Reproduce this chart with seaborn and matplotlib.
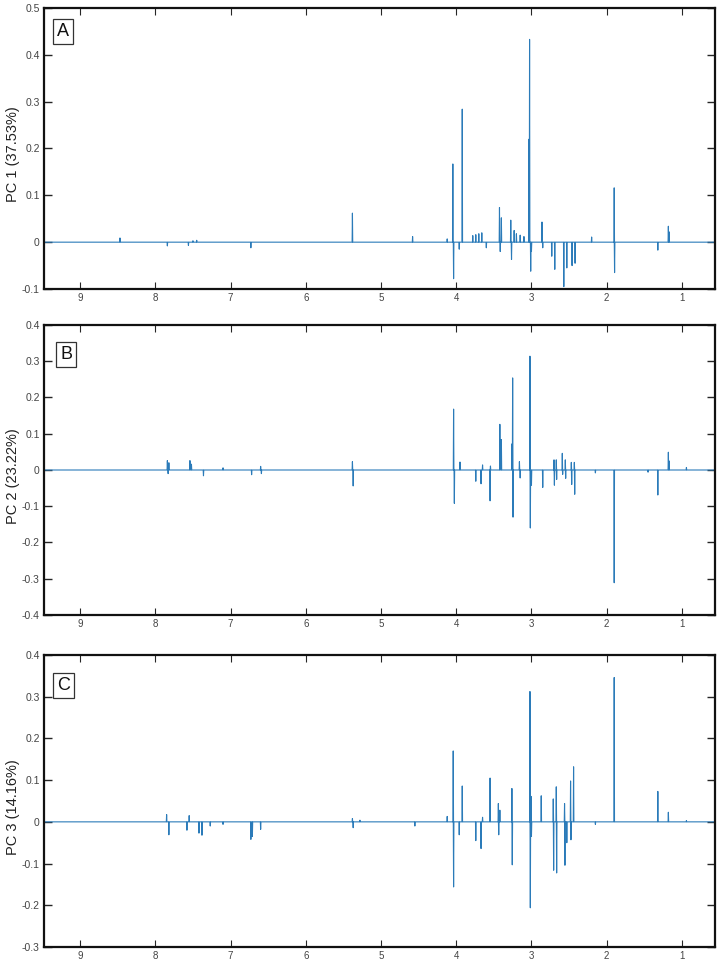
import numpy as np
import pandas as pd
import matplotlib
matplotlib.use("Agg")
import matplotlib.pyplot as plt
import seaborn as sns

# ---------------- data ----------------
pc_labels = ["PC 1 (37.53%)", "PC 2 (23.22%)", "PC 3 (14.16%)"]
panel_letters = ["A", "B", "C"]
x_ticks = [9, 8, 7, 6, 5, 4, 3, 2, 1]

pc1_ppm = [8.47, 7.84, 7.56, 7.50, 7.45, 6.73, 5.38, 4.58, 4.12, 4.045, 4.035, 3.96, 3.92,
           3.78, 3.74, 3.70, 3.66, 3.60, 3.425, 3.415, 3.40, 3.275, 3.265, 3.23, 3.20,
           3.15, 3.10, 3.032, 3.025, 3.01, 3.00, 2.86, 2.85, 2.73, 2.69, 2.57, 2.53,
           2.46, 2.42, 2.20, 1.90, 1.895, 1.32, 1.18, 1.17]
pc1_load = [0.009, -0.008, -0.007, 0.003, 0.004, -0.012, 0.062, 0.012, 0.007, 0.167, -0.078,
            -0.015, 0.284, 0.014, 0.016, 0.018, 0.020, -0.012, 0.074, -0.020, 0.052, 0.047,
            -0.037, 0.025, 0.018, 0.015, 0.012, 0.220, 0.433, -0.062, -0.020, 0.043, -0.012,
            -0.030, -0.058, -0.095, -0.055, -0.050, -0.045, 0.011, 0.116, -0.065, -0.017,
            0.034, 0.022]

pc2_ppm = [7.84, 7.83, 7.82, 7.54, 7.52, 7.36, 7.10, 6.72, 6.60, 6.59, 5.38, 5.37, 4.035,
           4.025, 3.95, 3.74, 3.67, 3.65, 3.55, 3.545, 3.42, 3.40, 3.26, 3.25, 3.245, 3.16,
           3.15, 3.02, 3.015, 3.00, 2.85, 2.70, 2.695, 2.67, 2.665, 2.59, 2.585, 2.55, 2.545,
           2.47, 2.465, 2.43, 2.425, 2.15, 1.90, 1.45, 1.32, 1.18, 1.17, 0.94]
pc2_load = [0.026, -0.010, 0.020, 0.026, 0.016, -0.016, 0.006, -0.013, 0.010, -0.010, 0.023,
            -0.044, 0.168, -0.092, 0.022, -0.031, -0.038, 0.014, -0.085, 0.011, 0.126, 0.084,
            0.072, 0.254, -0.130, 0.023, -0.022, 0.314, -0.160, -0.042, -0.048, 0.028, -0.042,
            0.028, -0.026, 0.046, -0.012, 0.028, -0.023, 0.021, -0.040, 0.021, -0.067, -0.008,
            -0.311, -0.006, -0.069, 0.049, 0.025, 0.007]

pc3_ppm = [7.85, 7.82, 7.58, 7.55, 7.42, 7.38, 7.27, 7.10, 6.73, 6.71, 6.60, 5.38, 5.37, 5.28,
           4.55, 4.12, 4.04, 4.035, 3.96, 3.92, 3.74, 3.67, 3.65, 3.55, 3.44, 3.435, 3.42,
           3.26, 3.255, 3.02, 3.015, 3.005, 3.00, 2.87, 2.71, 2.705, 2.67, 2.665, 2.56, 2.555,
           2.53, 2.48, 2.475, 2.44, 2.15, 1.90, 1.32, 1.18, 0.94]
pc3_load = [0.0175, -0.031, -0.020, 0.015, -0.027, -0.032, -0.010, -0.006, -0.042, -0.035,
            -0.018, 0.008, -0.014, 0.004, -0.010, 0.013, 0.170, -0.156, -0.031, 0.086, -0.045,
            -0.064, 0.011, 0.105, 0.044, -0.031, 0.028, 0.080, -0.103, 0.3125, -0.206, 0.061,
            -0.035, 0.0625, 0.055, -0.116, 0.084, -0.1225, 0.044, -0.104, -0.050, 0.098,
            -0.043, 0.132, -0.006, 0.346, 0.073, 0.023, 0.003]

y_ticks = [[0.5, 0.4, 0.3, 0.2, 0.1, 0.0, -0.1],
           [0.4, 0.3, 0.2, 0.1, 0.0, -0.1, -0.2, -0.3, -0.4],
           [0.4, 0.3, 0.2, 0.1, 0.0, -0.1, -0.2, -0.3]]

panels = [(pc1_ppm, pc1_load), (pc2_ppm, pc2_load), (pc3_ppm, pc3_load)]


def spectrum(ppm, load, w=0.004, start=9.6, end=0.4):
    order = np.argsort(ppm)[::-1]
    xs, ys = [start], [0.0]
    for i in order:
        xs += [ppm[i] + w, ppm[i], ppm[i] - w]
        ys += [0.0, load[i], 0.0]
    xs.append(end)
    ys.append(0.0)
    return pd.DataFrame({"ppm": xs, "loading": ys})


# ---------------- figure ----------------
sns.set_style("ticks")
plt.rcParams["font.family"] = ["Liberation Sans", "DejaVu Sans"]

fig = plt.figure(figsize=(7.24, 9.64), dpi=100)
W, H = 724, 964
# axes boxes in pixels: (left, top, right, bottom)
boxes = [(44, 8, 715, 289), (44, 325, 715, 615), (44, 655, 715, 947)]
letter_pos = [(0.028, 0.916), (0.033, 0.897), (0.029, 0.896)]
line_color = "#2b7bb9"

for k, (ppm, load) in enumerate(panels):
    l, t, r, b = boxes[k]
    ax = fig.add_axes([l / W, 1 - b / H, (r - l) / W, (b - t) / H])
    df = spectrum(ppm, load)
    sns.lineplot(data=df, x="ppm", y="loading", sort=False, estimator=None,
                 color=line_color, linewidth=0.8, ax=ax)
    ax.set_xlim(9.48, 0.56)
    yt = y_ticks[k]
    ax.set_ylim(min(yt), max(yt))
    ax.set_yticks(yt)
    ax.set_yticklabels(["0" if v == 0 else f"{v:g}" for v in yt])
    ax.set_xticks(x_ticks)
    ax.set_xticklabels([str(v) for v in x_ticks])
    ax.set_xlabel("")
    ax.set_ylabel("")
    for s in ax.spines.values():
        s.set_visible(True)
        s.set_linewidth(1.6)
        s.set_color("#111111")
    ax.tick_params(axis="y", direction="in", left=True, right=True, length=6,
                   width=1.0, labelsize=7.5, labelcolor="#444444", pad=3)
    ax.tick_params(axis="x", direction="in", bottom=True, top=True, length=5,
                   width=0.8, labelsize=7, labelcolor="#444444", pad=3)
    ax.text(letter_pos[k][0], letter_pos[k][1], panel_letters[k], transform=ax.transAxes,
            ha="center", va="center", fontsize=13, color="#111111",
            bbox=dict(boxstyle="square,pad=0.22", fc="white", ec="#333333", lw=0.9))
    fig.text(13 / W, 1 - ((t + b) / 2 + 6) / H, pc_labels[k], rotation=90,
             ha="center", va="center", fontsize=10.5, color="#222222")

fig.savefig("out.png", dpi=100)
